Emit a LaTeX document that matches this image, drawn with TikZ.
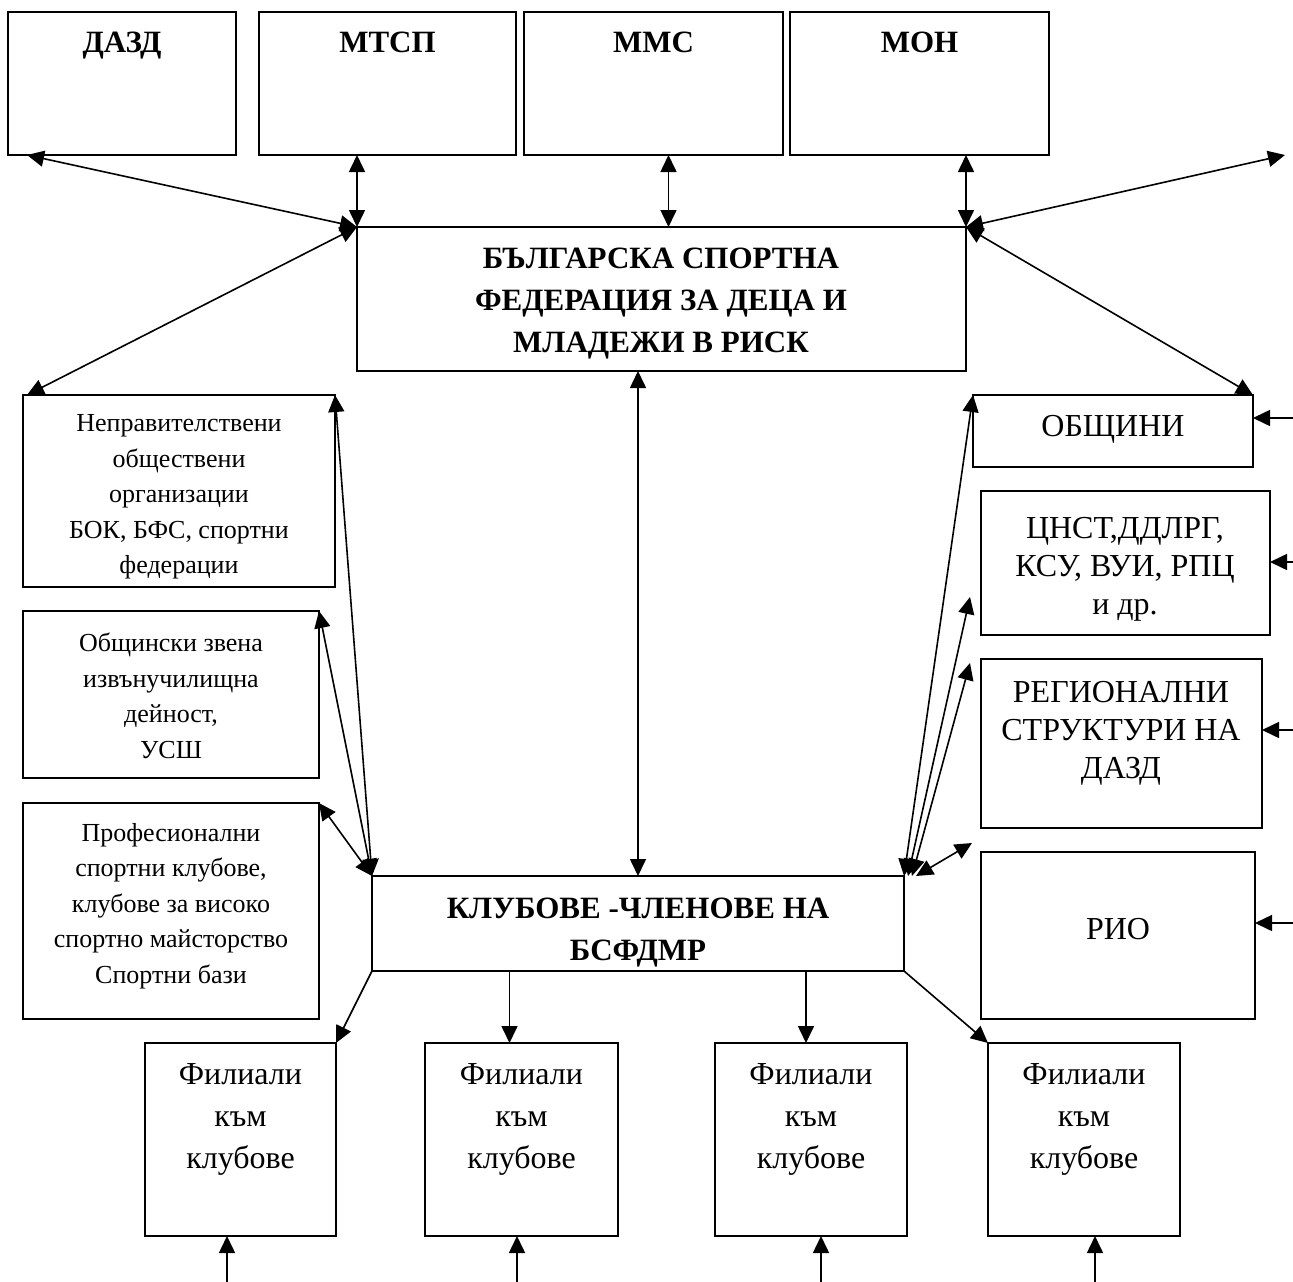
\documentclass[tikz,border=0pt]{standalone}
\usepackage{fontspec}
\setmainfont{Liberation Serif}
\usetikzlibrary{arrows.meta,calc}
\begin{document}
\begin{tikzpicture}[x=1pt,y=-1pt,
  box/.style={draw,line width=1.8pt,inner sep=0pt,outer sep=0pt,anchor=north west},
  arr/.style={line width=1.6pt,-{Triangle[length=17pt,width=16pt]}},
  darr/.style={line width=1.6pt,{Triangle[length=17pt,width=16pt]}-{Triangle[length=17pt,width=16pt]}},
  bigb/.style={align=center,inner sep=0pt,font=\fontsize{31}{42}\selectfont\bfseries},
  reg/.style={align=center,inner sep=0pt,font=\fontsize{32}{42}\selectfont},
  med/.style={align=center,inner sep=0pt,font=\fontsize{32}{38}\selectfont},
  sml/.style={align=center,inner sep=0pt,font=\fontsize{26}{35.5}\selectfont},
]
\useasboundingbox (0,0) rectangle (1293,1282);

% top boxes
\node[box,minimum width=228,minimum height=143] (dazd) at (8,12) {};
\node[box,minimum width=257,minimum height=143] (mtsp) at (259,12) {};
\node[box,minimum width=259,minimum height=143] (mms) at (524,12) {};
\node[box,minimum width=259,minimum height=143] (mon) at (790,12) {};
\node[bigb,anchor=base] (dazdt) at ($(dazd.north)+(0,40)$) {ДАЗД};
\node[bigb,anchor=base] (mtspt) at ($(mtsp.north)+(0,40)$) {МТСП};
\node[bigb,anchor=base] (mmst) at ($(mms.north)+(0,40)$) {ММС};
\node[bigb,anchor=base] (mont) at ($(mon.north)+(0,40)$) {МОН};

% central boxes
\node[box,minimum width=609,minimum height=144] (cen) at (357,227) {};
\node[bigb] (cent) at (661,304) {БЪЛГАРСКА СПОРТНА\\ФЕДЕРАЦИЯ ЗА ДЕЦА И\\МЛАДЕЖИ В РИСК};
\node[box,minimum width=532,minimum height=95] (klub) at (372,876) {};
\node[bigb] (klubt) at (638,933) {КЛУБОВЕ -ЧЛЕНОВЕ НА\\БСФДМР};

% left boxes
\node[box,minimum width=312,minimum height=192] (l1) at (23,395) {};
\node[sml] (l1t) at (179,497) {Неправителствени\\обществени\\организации\\БОК, БФС, спортни\\федерации};
\node[box,minimum width=296,minimum height=167] (l2) at (23,611) {};
\node[sml] (l2t) at (171,696) {Общински звена\\извънучилищна\\дейност,\\УСШ};
\node[box,minimum width=296,minimum height=216] (l3) at (23,803) {};
\node[sml] (l3t) at (171,906) {Професионални\\спортни клубове,\\клубове за високо\\спортно майсторство\\Спортни бази};

% right boxes
\node[box,minimum width=280,minimum height=72] (obs) at (973,395) {};
\node[med] (obst) at (1113,429) {ОБЩИНИ};
\node[box,minimum width=289,minimum height=144] (cnst) at (981,491) {};
\node[med] (cnstt) at (1125,569) {ЦНСТ,ДДЛРГ,\\КСУ, ВУИ, РПЦ\\и др.};
\node[box,minimum width=281,minimum height=169] (reg) at (981,659) {};
\node[med] (regt) at (1121,733) {РЕГИОНАЛНИ\\СТРУКТУРИ НА\\ДАЗД};
\node[box,minimum width=274,minimum height=167] (rio) at (981,852) {};
\node[med] (riot) at (1118,929) {РИО};

% bottom boxes
\node[box,minimum width=191,minimum height=193] (f1) at (145,1043) {};
\node[box,minimum width=193,minimum height=193] (f2) at (425,1043) {};
\node[box,minimum width=192,minimum height=193] (f3) at (715,1043) {};
\node[box,minimum width=192,minimum height=193] (f4) at (988,1043) {};
\node[reg] (f1t) at ($(f1.north)+(0,76)$) {Филиали\\към\\клубове};
\node[reg] (f2t) at ($(f2.north)+(0,76)$) {Филиали\\към\\клубове};
\node[reg] (f3t) at ($(f3.north)+(0,76)$) {Филиали\\към\\клубове};
\node[reg] (f4t) at ($(f4.north)+(0,76)$) {Филиали\\към\\клубове};

% top connectors
\coordinate (tr) at (1285,155);
\draw[darr] (cen.north west) -- ($(dazd.south west)+(19,0)$);
\draw[darr] (mtsp.south -| cen.north west) -- (cen.north west);
\coordinate (mmsx) at ($(cen.north)+(7,0)$);
\draw[darr] (mms.south -| mmsx) -- (mmsx);
\draw[darr] (mon.south -| cen.north east) -- (cen.north east);
\draw[darr] (cen.north east) -- (tr);
\draw[darr] (cen.north west) -- ($(l1.north west)+(4,0)$);
\draw[darr] (cen.north east) -- (obs.north east);
\draw[darr] (cen.south -| klub.north) -- (klub.north);

% left cluster
\draw[darr] (klub.north west) -- (l1.north east);
\draw[darr] (klub.north west) -- (l2.north east);
\draw[darr] (klub.north west) -- (l3.north east);

% right cluster
\draw[darr] (klub.north east) -- (obs.north west);
\draw[darr] ($(klub.north east)+(4,0)$) -- ($(cnst.west)+(-11,34)$);
\draw[darr] ($(klub.north east)+(8,0)$) -- ($(reg.north west)+(-11,4)$);
\draw[darr] ($(klub.north east)+(12,0)$) -- ($(rio.north west)+(-9,-9)$);

% inputs from the right
\coordinate (r1) at (1293,418);
\coordinate (r2) at (1293,562);
\coordinate (r3) at (1293,730);
\coordinate (r4) at (1293,923);
\draw[arr] (r1) -- (r1 -| obs.east);
\draw[arr] (r2) -- (r2 -| cnst.east);
\draw[arr] (r3) -- (r3 -| reg.east);
\draw[arr] (r4) -- (r4 -| rio.east);

% to branches
\coordinate (f2in) at ($(f2.north)+(-12,0)$);
\coordinate (f3in) at ($(f3.north)+(-5,0)$);
\draw[arr] (klub.south west) -- (f1.north east);
\draw[arr] (klub.south -| f2in) -- (f2in);
\draw[arr] (klub.south -| f3in) -- (f3in);
\draw[arr] (klub.south east) -- (f4.north west);

% inputs from below
\coordinate (b1) at (227,1282);
\coordinate (b2) at (517,1282);
\coordinate (b3) at (821,1282);
\coordinate (b4) at (1095,1282);
\draw[arr] (b1) -- (b1 |- f1.south);
\draw[arr] (b2) -- (b2 |- f2.south);
\draw[arr] (b3) -- (b3 |- f3.south);
\draw[arr] (b4) -- (b4 |- f4.south);
\end{tikzpicture}
\end{document}
